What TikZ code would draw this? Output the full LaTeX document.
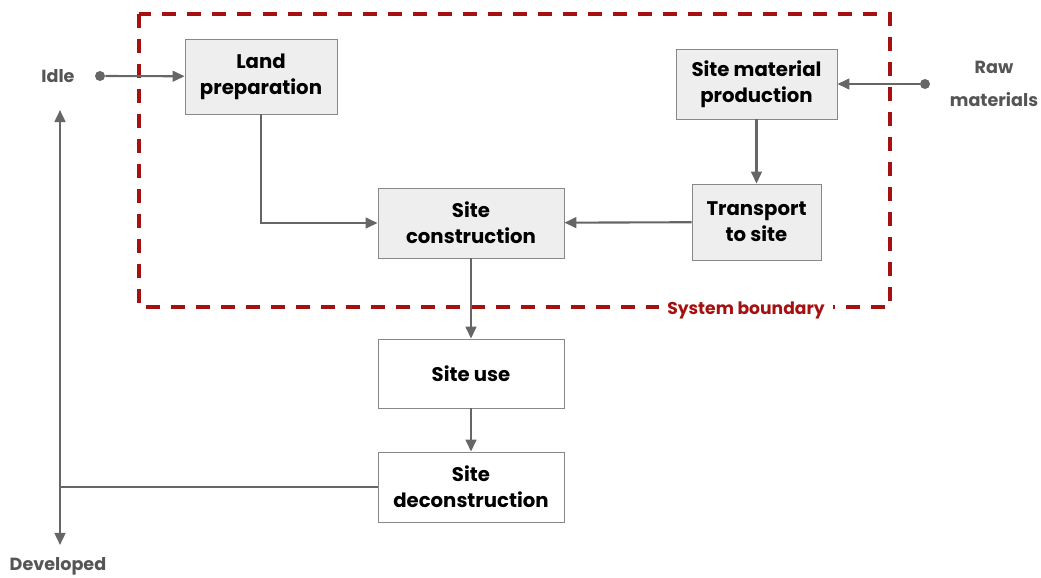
\documentclass[tikz,border=0pt]{standalone}
\usepackage{fontspec}
\setmainfont{Poppins}
\usepackage{xcolor}
\usetikzlibrary{arrows.meta,positioning}

\definecolor{linegray}{HTML}{666666}
\definecolor{boxgray}{HTML}{EEEEEE}
\definecolor{bordergray}{HTML}{888888}
\definecolor{bounddred}{HTML}{A51010}
\definecolor{labelgray}{HTML}{555555}

\tikzset{
    stage/.style={draw=bordergray, line width=0.6pt, fill=boxgray, align=center,
                  font=\fontsize{14}{18.5}\selectfont\bfseries, inner sep=0pt},
    plainstage/.style={stage, fill=white},
    flow/.style={draw=linegray, line width=1.5pt, -{Triangle[length=0.3cm,width=0.27cm]}},
    endlabel/.style={text=labelgray, align=center, font=\fontsize{12.5}{24}\selectfont\bfseries},
    enddot/.style={circle, fill=linegray, inner sep=0pt, minimum size=0.25cm}
}

\begin{document}
\begin{tikzpicture}[x=0.025cm, y=-0.025cm]
                \useasboundingbox (0,0) rectangle (1041,578);

                % system boundary
                \draw[color=bounddred, line width=2.2pt, dash pattern=on 0.35cm off 0.275cm]
                            (139,14) rectangle (890,307);
                \node [fill=white, text=bounddred, inner xsep=6pt,
                       font=\fontsize{12.2}{14}\selectfont\bfseries]
                                        (boundary) at (746,310) {System boundary};

                \node [stage, minimum width=3.8cm, minimum height=1.875cm]
                                        (land) at (261,76.5) {Land\\preparation};
                \node [stage, minimum width=4.025cm, minimum height=1.75cm]
                                        (material) at (756.5,84) {Site material\\production};
                \node [stage, minimum width=4.65cm, minimum height=1.75cm]
                                        (construct) at (471,223) {Site\\construction};
                \node [stage, minimum width=3.225cm, minimum height=1.9cm]
                                        (transport) at (756.5,222) {Transport\\to site};
                \node [plainstage, minimum width=4.65cm, minimum height=1.725cm]
                                        (use) at (471,373.5) {Site use};
                \node [plainstage, minimum width=4.65cm, minimum height=1.75cm]
                                        (decon) at (471,487) {Site\\deconstruction};

                \node [endlabel] (idle) at (58,76) {Idle};
                \node [endlabel] (raw) at (994,84) {Raw\\materials};
                \node [endlabel] (developed) at (58,566) {Developed};
                \node [enddot] (idledot) at (100,76) {};
                \node [enddot] (rawdot) at (925,84) {};

                \coordinate (up) at (60,110);
                \coordinate (down) at (60,545);
                \coordinate (turn) at (60,487);

                \draw[flow] (idledot) -- (land);
                \draw[flow] (rawdot) -- (material);
                \draw[flow] (land.south) |- (construct.west);
                \draw[flow] (material) -- (transport);
                \draw[flow] (transport) -- (construct);
                \draw[flow] (construct) -- (use);
                \draw[flow] (use) -- (decon);
                \draw[draw=linegray, line width=1.5pt] (decon.west) -- (turn);
                \draw[flow, {Triangle[length=0.3cm,width=0.27cm]}-{Triangle[length=0.3cm,width=0.27cm]}]
                            (up) -- (down);
\end{tikzpicture}
\end{document}
